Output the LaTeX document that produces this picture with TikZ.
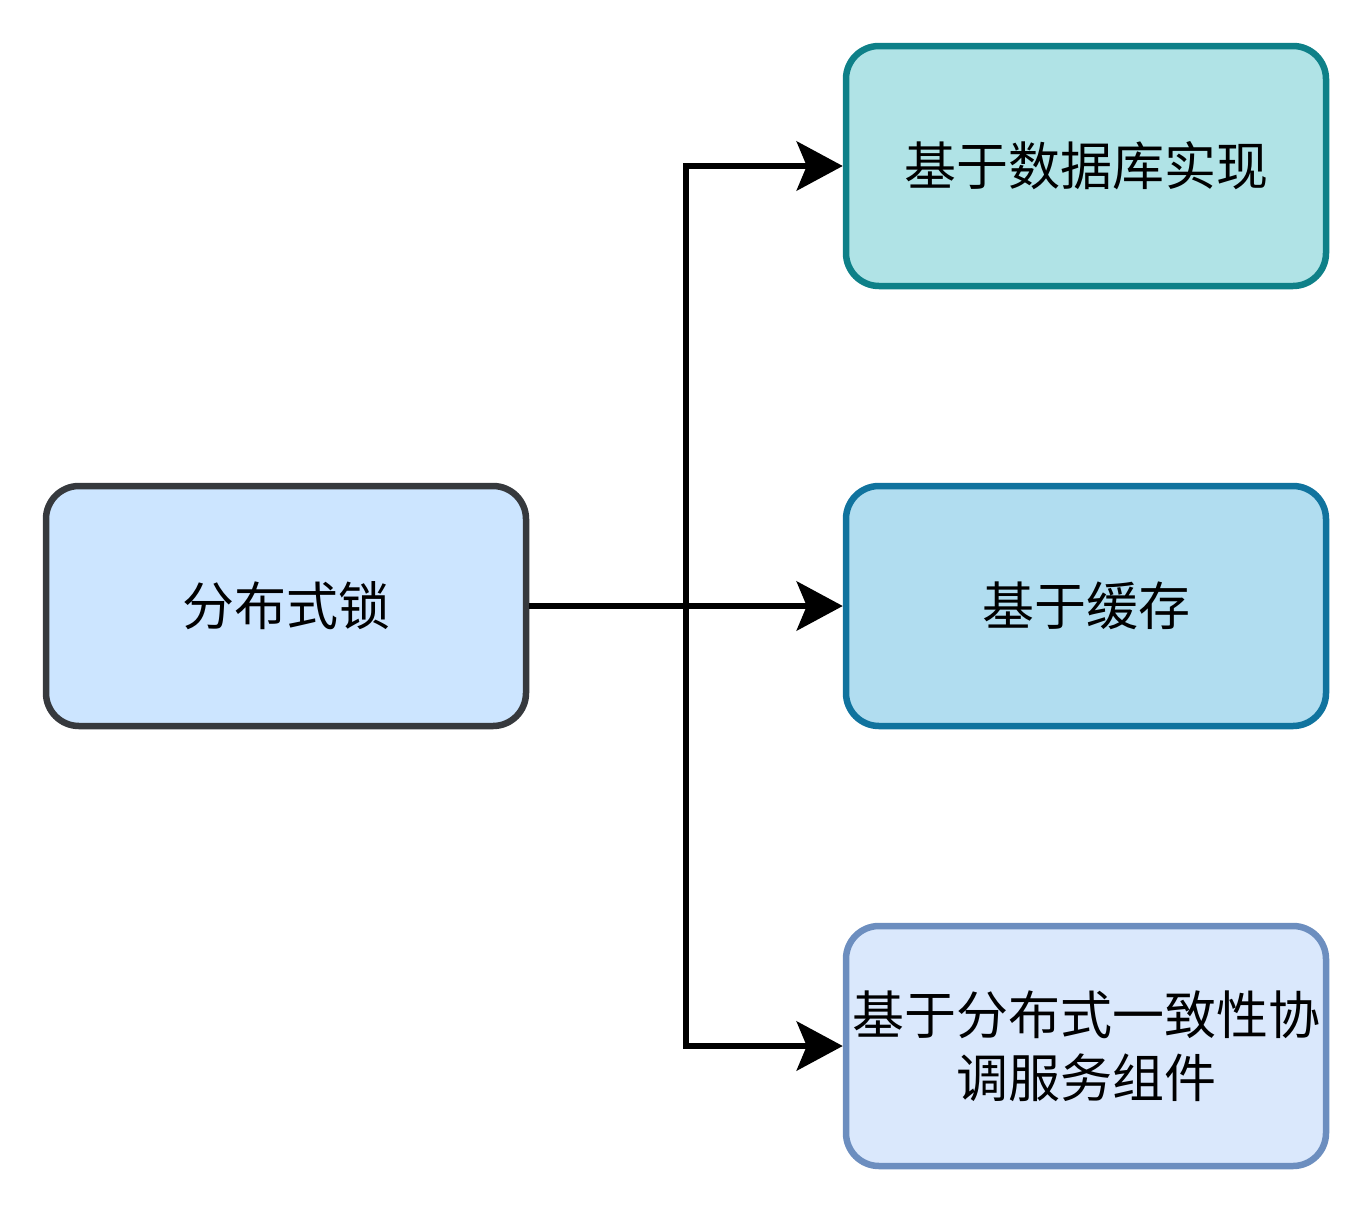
\documentclass[tikz,border=0pt]{standalone}
\usepackage{fontspec}
\setmainfont{Noto Sans CJK SC}
\usetikzlibrary{arrows.meta}
\definecolor{lfill}{HTML}{CCE5FF}
\definecolor{ldraw}{HTML}{36393D}
\definecolor{afill}{HTML}{B0E3E6}
\definecolor{adraw}{HTML}{0E8088}
\definecolor{bfill}{HTML}{B1DDF0}
\definecolor{bdraw}{HTML}{10739E}
\definecolor{cfill}{HTML}{DAE8FC}
\definecolor{cdraw}{HTML}{6C8EBF}
\begin{document}
\begin{tikzpicture}[x=1pt,y=-1pt,
  box/.style={draw, line width=6.5pt, rounded corners=33pt, minimum width=480pt, minimum height=240pt, inner sep=0pt, align=center, font=\fontsize{52pt}{63pt}\selectfont},
  link/.style={line width=6.5pt, -{Stealth[length=46pt,width=49pt,inset=10pt]}}]
\useasboundingbox (0,0) rectangle (1368,1208);
\node[box, fill=lfill, draw=ldraw] (lock) at (286,606) {分布式锁};
\node[box, fill=afill, draw=adraw] (db) at (1086,166) {基于数据库实现};
\node[box, fill=bfill, draw=bdraw] (cache) at (1086,606) {基于缓存};
\node[box, fill=cfill, draw=cdraw] (coord) at (1086,1046) {基于分布式一致性协\\调服务组件};
\coordinate (j) at (686,606);
\draw[line width=6.5pt] (lock.east) -- (j);
\draw[link] (j) |- (db.west);
\draw[link] (j) -- (cache.west);
\draw[link] (j) |- (coord.west);
\end{tikzpicture}
\end{document}
